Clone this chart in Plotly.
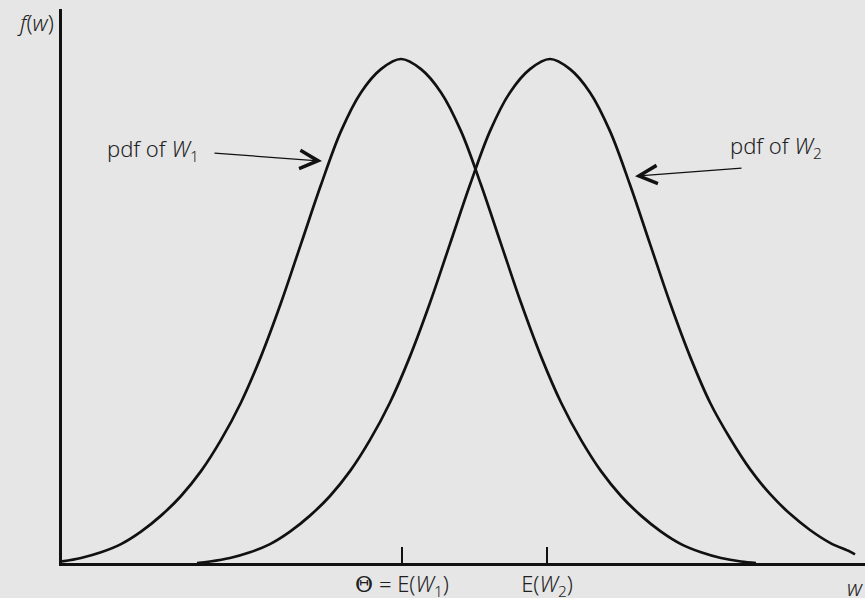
import plotly.graph_objects as go

# Values (w on horizontal axis, f(w) on vertical axis)
w1 = [0.00, 0.19, 0.39, 0.59, 0.79, 0.99, 1.19, 1.39, 1.59, 1.79, 1.99, 2.19, 2.39, 2.59,
      2.79, 2.99, 3.19, 3.39, 3.59, 3.79, 3.99, 4.19, 4.39, 4.59, 4.79, 4.99, 5.19, 5.39,
      5.59, 5.79, 5.99, 6.19, 6.39, 6.59, 6.79, 6.94]
f1 = [0.0012, 0.0040, 0.0085, 0.0150, 0.0249, 0.0376, 0.0532, 0.0729, 0.0977, 0.1274,
      0.1640, 0.2065, 0.2533, 0.3002, 0.3428, 0.3735, 0.3920, 0.4000, 0.3920, 0.3735,
      0.3428, 0.3002, 0.2533, 0.2065, 0.1640, 0.1274, 0.0977, 0.0729, 0.0532, 0.0376,
      0.0249, 0.0150, 0.0085, 0.0040, 0.0012, 0.0000]

w2 = [1.35, 1.48, 1.68, 1.88, 2.08, 2.28, 2.48, 2.68, 2.88, 3.08, 3.28, 3.48, 3.68, 3.88,
      4.08, 4.28, 4.48, 4.68, 4.88, 5.08, 5.28, 5.48, 5.68, 5.88, 6.08, 6.28, 6.48, 6.68,
      6.88, 7.08, 7.28, 7.48, 7.68, 7.88, 7.93]
f2 = [0.0000, 0.0012, 0.0040, 0.0085, 0.0150, 0.0249, 0.0376, 0.0532, 0.0729, 0.0977,
      0.1274, 0.1640, 0.2065, 0.2533, 0.3002, 0.3428, 0.3735, 0.3920, 0.4000, 0.3920,
      0.3735, 0.3428, 0.3002, 0.2533, 0.2065, 0.1640, 0.1274, 0.0990, 0.0745, 0.0548,
      0.0390, 0.0262, 0.0160, 0.0090, 0.0068]

tick_vals = [3.40, 4.85]
tick_text = ['<span style="font-family:\'DejaVu Serif\'">Θ</span> = E(<i>W</i><sub>1</sub>)',
             'E(<i>W</i><sub>2</sub>)']

x_range = [0, 8.03]
y_range = [0, 0.4397]

bg = "#e6e6e6"
ink = "#111111"
txt = "#1f1f1f"
font_family = "Noto Sans"
fs = 22

fig = go.Figure()
for xs, ys in ((w1, f1), (w2, f2)):
    fig.add_trace(go.Scatter(x=xs, y=ys, mode="lines",
                             line=dict(color=ink, width=2.7, shape="spline", smoothing=1.0),
                             hoverinfo="skip", showlegend=False, cliponaxis=False))

# arrows
arrow_style = dict(text="", showarrow=True, arrowhead=5, arrowsize=3.0, arrowwidth=1.2,
                   arrowcolor=ink, standoff=0, axref="x", ayref="y", xref="x", yref="y")
fig.add_annotation(x=2.60, y=0.319, ax=1.51, ay=0.3254, **arrow_style)
fig.add_annotation(x=5.73, y=0.307, ax=6.81, ay=0.3135, **arrow_style)

# labels
lab_font = dict(size=fs, color=txt, family=font_family, weight=300)
fig.add_annotation(x=0.43, y=0.328, xref="x", yref="y", xanchor="left", yanchor="middle",
                   text="pdf of <i>W</i><sub>1</sub>", showarrow=False, font=lab_font)
fig.add_annotation(x=6.66, y=0.330, xref="x", yref="y", xanchor="left", yanchor="middle",
                   text="pdf of <i>W</i><sub>2</sub>", showarrow=False, font=lab_font)
fig.add_annotation(x=0, y=0.976, xref="paper", yref="paper", xanchor="right", yanchor="middle", xshift=-6,
                   text="<i>f</i>(<i>w</i>)", showarrow=False, font=lab_font)
fig.add_annotation(x=0.988, y=-0.043, xref="paper", yref="paper", xanchor="center", yanchor="middle",
                   text="<i>w</i>", showarrow=False, font=lab_font)

fig.update_layout(
    width=865, height=598,
    margin=dict(l=62, r=0, t=9, b=35, autoexpand=False),
    paper_bgcolor=bg, plot_bgcolor=bg,
    font=dict(family=font_family, size=fs, color=txt),
    xaxis=dict(range=x_range, showgrid=False, zeroline=False, showline=True, linecolor=ink, linewidth=3,
               ticks="inside", ticklen=16, tickwidth=2, tickcolor=ink, ticklabelstandoff=0,
               tickvals=tick_vals, ticktext=tick_text, tickfont=lab_font, automargin=False,
               fixedrange=True),
    yaxis=dict(range=y_range, showgrid=False, zeroline=False, showline=True, linecolor=ink, linewidth=3,
               showticklabels=False, ticks="", automargin=False, fixedrange=True),
)

fig.write_html("out.html", config={"displayModeBar": False},
               post_script="document.body.style.margin='0px';document.body.style.background='#e6e6e6';")
